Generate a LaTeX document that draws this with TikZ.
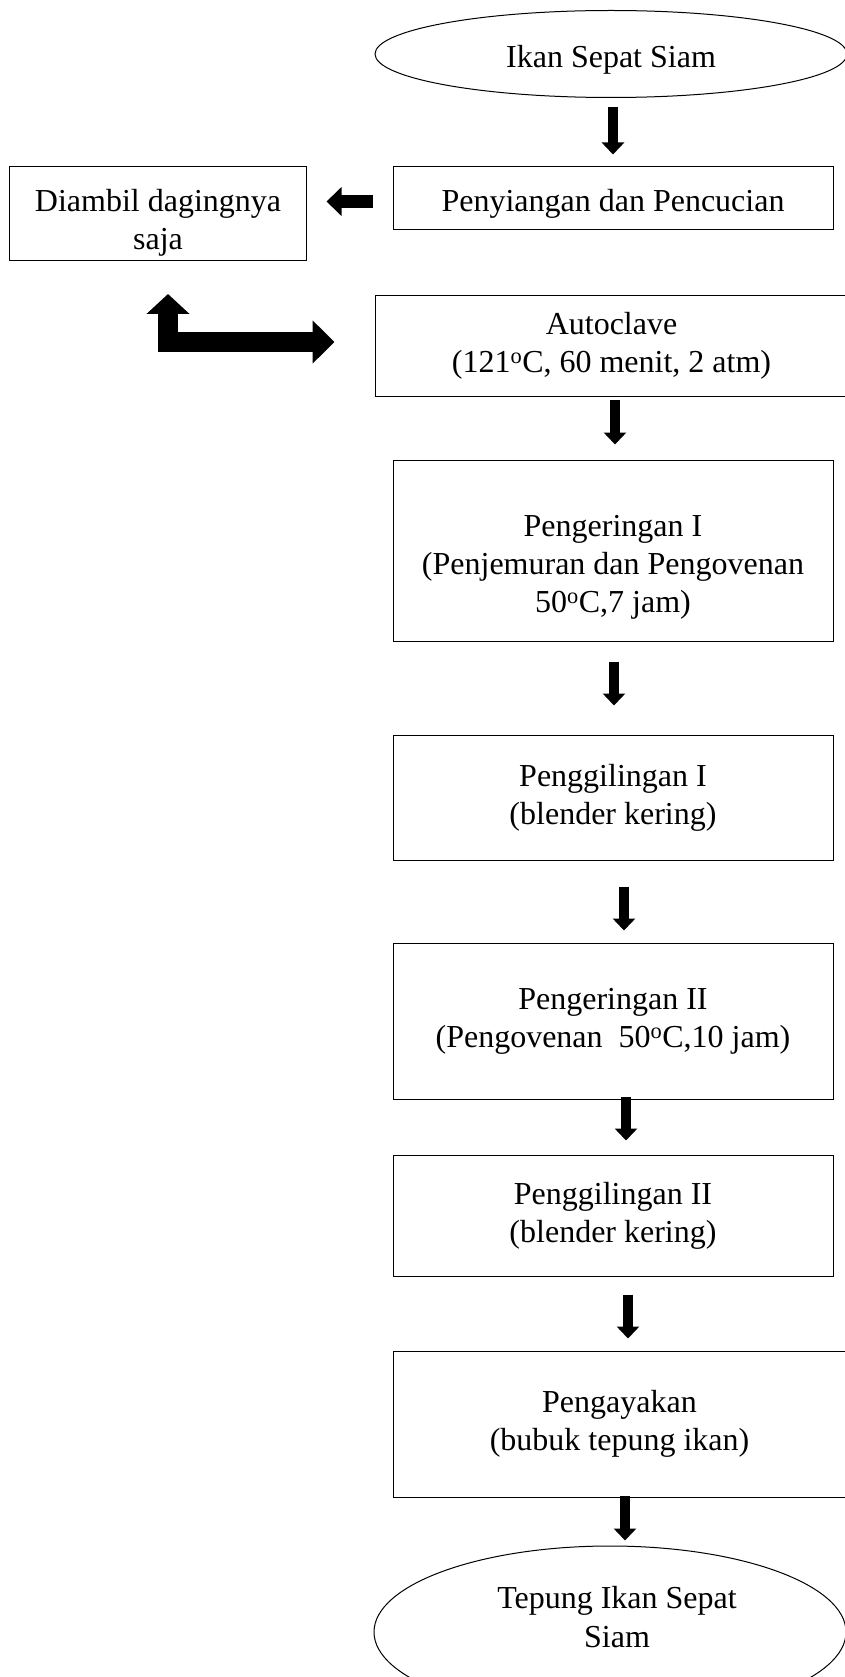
\documentclass[tikz,border=0pt]{standalone}
\usepackage{fontspec}
\setmainfont{Liberation Serif}
\usetikzlibrary{shapes.geometric,arrows.meta}
\tikzset{
  box/.style={draw, line width=1pt, minimum width=440pt, align=center, inner sep=0pt,
    execute at begin node=\rule{0pt}{33pt}},
  oval/.style={draw, ellipse, line width=1pt, inner sep=0pt, align=center,
    execute at begin node=\rule{0pt}{33pt}},
  flow/.style={line width=9.5pt, -{Triangle[length=12pt,width=22pt]}},
}
\begin{document}
\begin{tikzpicture}[x=1pt,y=-1pt,font=\fontsize{32}{38}\selectfont]
\useasboundingbox (0,0) rectangle (844,1677);
% main line
\node[oval, minimum width=472pt, minimum height=87pt] (ikan) at (611,54) {Ikan Sepat Siam};
\node[box, minimum height=63pt] (siang) at (613,198.5) {\rule{0pt}{29pt}Penyiangan dan Pencucian};
\node[box, minimum width=297pt, minimum height=94pt] (daging) at (158,214) {\rule{0pt}{40pt}Diambil dagingnya\\saja};
\node[box, minimum width=473pt, minimum height=100pt] (auto) at (611.5,346) {Autoclave\\(121\textsuperscript{o}C, 60 menit, 2 atm)};
\node[box, minimum height=181pt] (kering1) at (613,550.5) {\rule{0pt}{54pt}Pengeringan I\\(Penjemuran dan Pengovenan\\50\textsuperscript{o}C,7 jam)};
\node[box, minimum height=125pt] (giling1) at (613,797.5) {Penggilingan I\\(blender kering)};
\node[box, minimum height=156pt] (kering2) at (613,1021) {Pengeringan II\\(Pengovenan\ \ 50\textsuperscript{o}C,10 jam)};
\node[box, minimum height=121pt] (giling2) at (613,1215.5) {Penggilingan II\\(blender kering)};
\node[box, minimum width=453pt, minimum height=146pt] (ayak) at (619.5,1424) {Pengayakan\\(bubuk tepung ikan)};
\node[oval, minimum width=472pt, minimum height=172pt] (tepung) at (610,1632) {};
\node[align=center, font=\fontsize{32}{39}\selectfont] (tepungtxt) at (617,1617) {Tepung Ikan Sepat\\Siam};
% arrows
\draw[flow, shorten <=9.5pt, shorten >=12pt] ([xshift=2pt]ikan.south) -- (siang.north);
\draw[line width=13pt, -{Triangle[length=15pt,width=28pt]}, shorten <=20pt, shorten >=19.5pt]
  ([yshift=-3pt]siang.west) -- ([yshift=12.5pt]daging.east);
\draw[line width=20pt, {Triangle[length=20pt,width=42pt]}-{Triangle[length=22pt,width=42pt]}, shorten <=32.5pt, shorten >=40pt]
  ([xshift=10pt]daging.south) |- ([yshift=4pt]auto.west);
\draw[flow, shorten <=3pt, shorten >=15pt] ([xshift=3.5pt]auto.south) -- ([xshift=2pt]kering1.north);
\draw[flow, shorten <=20pt, shorten >=29pt] ([xshift=1pt]kering1.south) -- ([xshift=1pt]giling1.north);
\draw[flow, shorten <=26pt, shorten >=12pt] ([xshift=11pt]giling1.south) -- ([xshift=11pt]kering2.north);
\draw[flow, shorten <=-3pt, shorten >=14pt] ([xshift=13pt]kering2.south) -- ([xshift=13pt]giling2.north);
\draw[flow, shorten <=18pt, shorten >=12pt] ([xshift=15pt]giling2.south) -- ([xshift=8.5pt]ayak.north);
\draw[flow, shorten <=-2pt, shorten >=5pt] ([xshift=5.5pt]ayak.south) -- ([xshift=15pt]tepung.north);
\end{tikzpicture}
\end{document}
